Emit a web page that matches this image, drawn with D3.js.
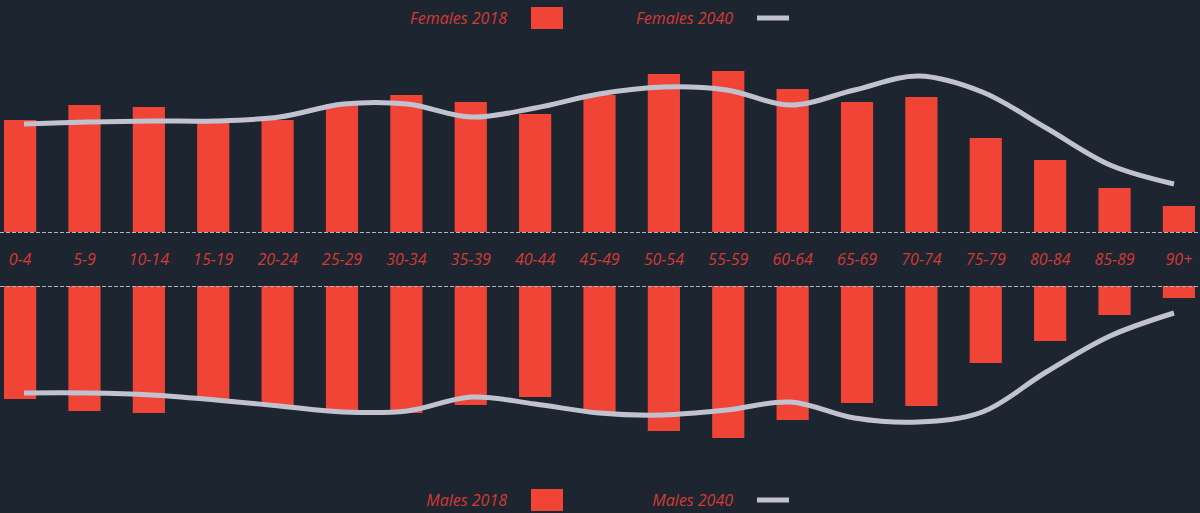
<!DOCTYPE html>
<html>
<head>
<meta charset="utf-8">
<script src="https://cdn.jsdelivr.net/npm/d3@7"></script>
<style>
  html, body { margin: 0; padding: 0; background: #1d2530; }
  svg { display: block; }
  text { font-family: "Open Sans", sans-serif; font-style: italic; }
</style>
</head>
<body>
<div id="chart"></div>
<script>
// Age groups
const ageGroups = ["0-4", "5-9", "10-14", "15-19", "20-24", "25-29", "30-34", "35-39", "40-44",
  "45-49", "50-54", "55-59", "60-64", "65-69", "70-74", "75-79", "80-84", "85-89", "90+"];

// Values (same units for all four series)
const females2018 = [112, 127, 125, 112, 112, 128, 137, 130, 118, 137, 158, 161, 143, 130, 135, 94, 72, 44, 26];
const females2040 = [108, 110, 111, 111, 115, 128, 128, 115, 124, 138, 145, 142, 127, 142, 156, 140, 104, 67, 48];
const males2018 = [113, 125, 127, 113, 119, 126, 127, 119, 111, 127, 145, 152, 134, 117, 120, 77, 55, 29, 12];
const males2040 = [107, 107, 109, 114, 120, 126, 125, 111, 118, 127, 129, 124, 116, 132, 136, 126, 86, 50, 27];

const W = 1200, H = 513;
const barColor = "#f04436";
const textColor = "#d33a35";
const lineColor = "#c0c3cf";

const svg = d3.select("#chart")
    .append("svg")
    .attr("width", W)
    .attr("height", H);

// Scales
const x = d3.scaleBand()
    .domain(ageGroups)
    .range([4, 1195])
    .paddingInner(0.5)
    .paddingOuter(0);

const xLine = d3.scalePoint()
    .domain(ageGroups)
    .range([24, 1174]);

const topBase = 232, bottomBase = 286;
const yTop = d3.scaleLinear().domain([0, 170]).range([topBase, topBase - 170]);
const yBottom = d3.scaleLinear().domain([0, 170]).range([bottomBase, bottomBase + 170]);

// Female bars (upwards)
svg.append("g").selectAll("rect")
    .data(females2018)
    .enter()
    .append("rect")
    .attr("x", (d, i) => x(ageGroups[i]))
    .attr("y", d => yTop(d))
    .attr("width", x.bandwidth())
    .attr("height", d => yTop(0) - yTop(d))
    .attr("fill", barColor);

// Male bars (downwards)
svg.append("g").selectAll("rect")
    .data(males2018)
    .enter()
    .append("rect")
    .attr("x", (d, i) => x(ageGroups[i]))
    .attr("y", yBottom(0))
    .attr("width", x.bandwidth())
    .attr("height", d => yBottom(d) - yBottom(0))
    .attr("fill", barColor);

// Dashed baselines
[topBase, bottomBase].forEach(yy => {
    svg.append("line")
        .attr("x1", 0).attr("x2", W)
        .attr("y1", yy + 0.5).attr("y2", yy + 0.5)
        .attr("stroke", "#b0b5c0")
        .attr("stroke-width", 1.2)
        .attr("stroke-dasharray", "4,2");
});

// Projection lines
const lineTop = d3.line()
    .x((d, i) => xLine(ageGroups[i]))
    .y(d => yTop(d))
    .curve(d3.curveCatmullRom.alpha(0.5));

const lineBottom = d3.line()
    .x((d, i) => xLine(ageGroups[i]))
    .y(d => yBottom(d))
    .curve(d3.curveCatmullRom.alpha(0.5));

svg.append("path")
    .datum(females2040)
    .attr("d", lineTop)
    .attr("fill", "none")
    .attr("stroke", lineColor)
    .attr("stroke-width", 5);

svg.append("path")
    .datum(males2040)
    .attr("d", lineBottom)
    .attr("fill", "none")
    .attr("stroke", lineColor)
    .attr("stroke-width", 5);

// Age labels in the middle band
svg.append("g").selectAll("text")
    .data(ageGroups)
    .enter()
    .append("text")
    .attr("x", d => x(d) + x.bandwidth() / 2)
    .attr("y", 265)
    .attr("text-anchor", "middle")
    .attr("fill", textColor)
    .style("font-size", "16px")
    .text(d => d);

// Legends
function legend(yText, yRect, yLine, barLabel, lineLabel) {
    const g = svg.append("g");
    g.append("text")
        .attr("x", 507).attr("y", yText)
        .attr("text-anchor", "end")
        .attr("fill", textColor)
        .style("font-size", "16px")
        .text(barLabel);
    g.append("rect")
        .attr("x", 531).attr("y", yRect)
        .attr("width", 32).attr("height", 22)
        .attr("fill", barColor);
    g.append("text")
        .attr("x", 733).attr("y", yText)
        .attr("text-anchor", "end")
        .attr("fill", textColor)
        .style("font-size", "16px")
        .text(lineLabel);
    g.append("line")
        .attr("x1", 757).attr("x2", 789)
        .attr("y1", yLine).attr("y2", yLine)
        .attr("stroke", lineColor)
        .attr("stroke-width", 5);
}

legend(24, 7, 18, "Females 2018", "Females 2040");
legend(506, 489, 500, "Males 2018", "Males 2040");
</script>
</body>
</html>
